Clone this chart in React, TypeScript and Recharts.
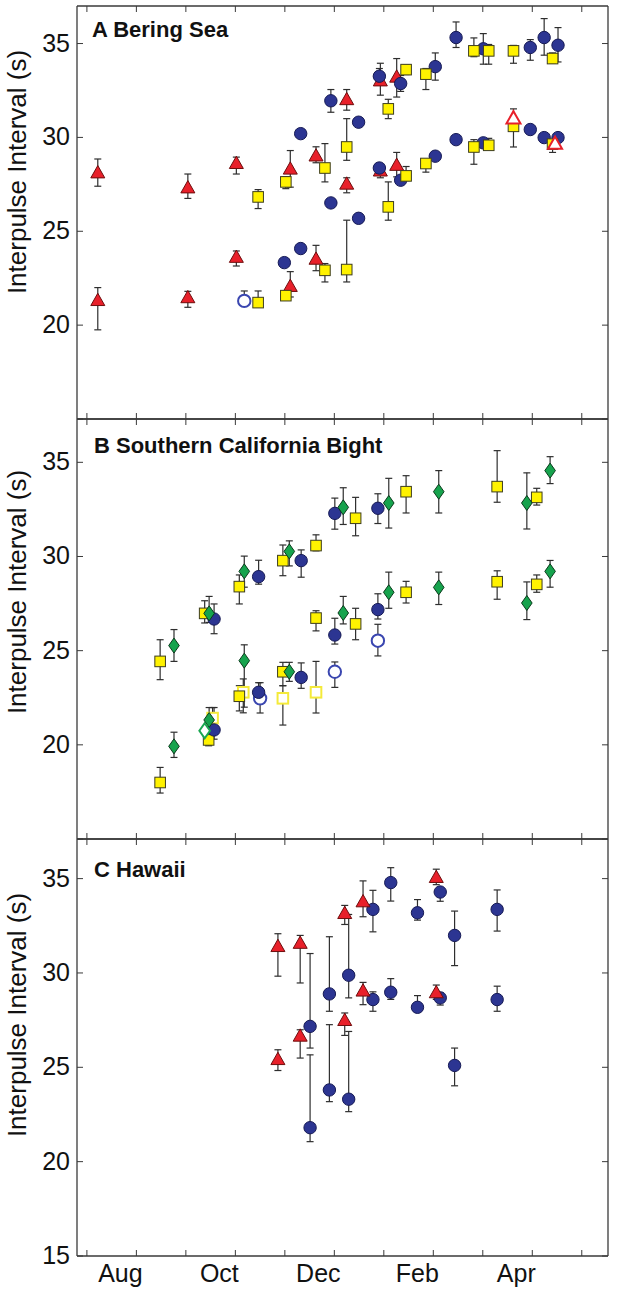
import React from 'react';
import { ScatterChart, Scatter, XAxis, YAxis, ErrorBar } from 'recharts';

// x: months after 1 Jul (one tick per month start), y: interpulse interval (s)
// lo / hi: ends of the error bar (null = no bar)
const MONTH_TICKS = [0, 1, 2, 3, 4, 5, 6, 7, 8, 9, 10];
const MONTH_LABELS: Record<number, string> = { 1: 'Aug', 3: 'Oct', 5: 'Dec', 7: 'Feb', 9: 'Apr' };
const Y_TICKS = [15, 20, 25, 30, 35];
const X_DOMAIN = [-0.2, 10.53];

// ---- A Bering Sea ----
const aTriX = [0.22, 0.22, 2.04, 2.04, 3.02, 3.02, 4.11, 4.11, 4.63, 4.63, 5.25, 5.25, 5.93, 5.93, 6.26, 6.26];
const aTriY = [28.1, 21.3, 27.3, 21.45, 28.6, 23.6, 28.3, 22.05, 29.0, 23.5, 32.0, 27.5, 33.0, 28.2, 33.2, 28.5];
const aTriLo = [27.4, 19.75, 26.75, 20.95, 28.05, 23.15, 27.35, 21.5, 28.65, 22.9, 31.45, 27.05, 32.25, 27.85, 32.15, 27.9];
const aTriHi = [28.85, 22.0, 28.05, 21.8, 28.95, 23.95, 29.3, 22.85, 29.5, 24.25, 32.55, 27.85, 33.95, 28.5, 34.2, 29.2];

const aOpenTriX = [8.62, 9.46];
const aOpenTriY = [31.0, 29.65];
const aOpenTriLo = [null, null];
const aOpenTriHi = [null, null];

const aCircX = [3.99, 4.32, 4.32, 4.93, 4.93, 5.49, 5.49, 5.91, 5.91, 6.34, 6.34, 7.04, 7.04, 7.46, 7.46, 8.01, 8.01, 8.96, 8.96, 9.24, 9.24, 9.52, 9.52];
const aCircY = [23.33, 24.08, 30.2, 31.95, 26.51, 30.81, 25.69, 33.26, 28.37, 32.87, 27.72, 33.77, 29.0, 35.32, 29.88, 34.72, 29.71, 34.79, 30.42, 35.32, 29.99, 34.91, 29.99];
const aCircLo = [null, null, 30.0, 31.34, null, 30.6, null, 33.0, 28.2, 32.45, 27.55, 33.05, 28.85, 34.79, null, 33.9, 29.55, 34.11, null, 34.38, null, 34.02, null];
const aCircHi = [null, null, 30.4, 32.55, null, 31.0, null, 33.67, 28.5, 33.3, 27.9, 34.5, 29.1, 36.15, null, 35.53, 29.85, 35.21, null, 36.33, null, 35.85, null];

const aOpenCircX = [3.18];
const aOpenCircY = [21.29];
const aOpenCircLo = [null];
const aOpenCircHi = [21.82];

const aSqX = [3.46, 3.46, 4.02, 4.02, 4.81, 4.81, 5.25, 5.25, 6.09, 6.09, 6.45, 6.45, 6.85, 6.85, 7.82, 7.82, 8.12, 8.12, 8.62, 8.62, 9.41, 9.41];
const aSqY = [21.2, 26.83, 21.57, 27.63, 28.37, 22.92, 29.49, 22.96, 31.52, 26.3, 33.61, 27.95, 33.37, 28.61, 34.61, 29.49, 34.61, 29.58, 34.61, 30.59, 34.2, 29.64];
const aSqLo = [20.97, 26.21, 21.4, 27.27, 27.63, 22.3, 28.78, 22.3, 31.0, 25.59, 33.35, 27.7, 32.55, 28.15, 34.3, 28.57, 33.9, 29.5, 33.95, 29.49, 33.95, 29.2];
const aSqHi = [21.82, 27.22, 21.7, 27.9, 29.67, 23.28, 31.0, 25.59, 32.03, 27.63, 33.85, 28.45, 33.67, 28.8, 35.3, 29.88, 34.95, 29.95, 34.9, 31.52, 34.5, 29.75];

// ---- B Southern California Bight ----
const bSqX = [1.48, 1.48, 2.38, 2.46, 3.08, 3.08, 3.96, 3.96, 4.63, 4.63, 5.43, 5.43, 6.45, 6.45, 8.29, 8.29, 9.09, 9.09];
const bSqY = [24.43, 18.0, 26.98, 20.26, 28.4, 22.58, 29.78, 23.88, 30.58, 26.73, 32.03, 26.42, 33.44, 28.1, 33.71, 28.66, 33.14, 28.52];
const bSqLo = [23.46, 17.44, 26.47, 19.95, 27.48, 21.8, 28.98, 23.14, 30.3, 26.05, 31.1, 25.58, 32.31, 27.53, 32.88, 27.73, 32.73, 28.1];
const bSqHi = [25.58, 18.8, 27.65, 20.57, 29.02, 23.14, 30.61, 24.38, 31.15, 27.12, 33.14, 27.25, 34.29, 28.68, 35.62, 29.24, 33.62, 29.02];

const bOpenSqX = [2.54, 3.16, 3.96, 4.63];
const bOpenSqY = [21.42, 22.79, 22.47, 22.79];
const bOpenSqLo = [20.5, 21.7, 21.05, 21.69];
const bOpenSqHi = [21.98, 23.5, 23.14, 24.43];

const bDiaX = [1.76, 1.76, 2.47, 2.47, 3.18, 3.18, 4.09, 4.09, 5.18, 5.18, 6.1, 6.1, 7.11, 7.11, 8.89, 8.89, 9.36, 9.36];
const bDiaY = [25.27, 19.92, 26.98, 21.32, 29.21, 24.47, 30.27, 23.88, 32.61, 27.0, 32.84, 28.1, 33.44, 28.36, 32.84, 27.53, 34.56, 29.21];
const bDiaLo = [24.43, 19.33, 26.5, 20.2, 28.37, 22.0, 29.5, 23.37, 31.7, 26.42, 31.51, 27.25, 32.31, 27.45, 31.46, 26.65, 33.87, 28.37];
const bDiaHi = [26.12, 20.67, 27.88, 21.98, 30.02, 25.31, 30.83, 24.38, 33.65, 27.88, 34.15, 29.17, 34.56, 29.17, 34.44, 28.65, 35.3, 29.79];

const bOpenDiaX = [2.38];
const bOpenDiaY = [20.75];
const bOpenDiaLo = [null];
const bOpenDiaHi = [null];

const bCircX = [2.57, 2.57, 3.47, 3.47, 4.33, 4.33, 5.01, 5.01, 5.88, 5.88];
const bCircY = [26.68, 20.79, 28.93, 22.79, 29.78, 23.58, 32.29, 25.83, 32.56, 27.18];
const bCircLo = [25.9, 20.3, 28.53, 22.3, 28.9, 23.0, 31.45, 25.35, 31.75, 26.68];
const bCircHi = [27.48, 21.98, 29.8, 23.3, 30.35, 24.35, 33.1, 26.72, 33.33, 28.02];

const bOpenCircX = [3.5, 5.01, 5.88];
const bOpenCircY = [22.47, 23.88, 25.53];
const bOpenCircLo = [21.69, 23.05, 24.72];
const bOpenCircHi = [23.3, 24.4, 26.4];

// ---- C Hawaii ----
const cTriX = [3.86, 3.86, 4.31, 4.31, 5.21, 5.21, 5.58, 5.58, 7.06, 7.06];
const cTriY = [31.39, 25.4, 31.56, 26.64, 33.14, 27.47, 33.76, 29.03, 35.05, 28.94];
const cTriLo = [29.83, 24.83, 29.47, 25.49, 32.57, 26.69, 32.98, 28.32, 34.68, 28.6];
const cTriHi = [32.08, 25.93, 31.99, 26.99, 33.58, 27.88, 34.88, 29.5, 35.5, 29.36];

const cCircX = [4.51, 4.51, 4.9, 4.9, 5.29, 5.29, 5.78, 5.78, 6.14, 6.14, 6.68, 6.68, 7.14, 7.14, 7.43, 7.43, 8.29, 8.29];
const cCircY = [27.17, 21.8, 28.89, 23.8, 29.88, 23.31, 33.37, 28.59, 34.79, 28.98, 33.19, 28.18, 34.29, 28.68, 31.99, 25.1, 33.37, 28.59];
const cCircLo = [26.02, 21.06, 27.97, 23.18, 28.68, 22.65, 32.18, 27.97, 33.81, 28.6, 32.8, 27.97, 33.8, 28.3, 30.39, 24.02, 32.22, 27.97];
const cCircHi = [31.03, 25.66, 31.92, 27.26, 33.1, 26.9, 34.38, 29.0, 35.58, 29.7, 33.89, 28.8, 34.5, 28.95, 33.28, 26.02, 34.4, 29.3];

const FONT = '"Liberation Sans", Arial, Helvetica, sans-serif';
const AXIS = '#3a3a3a';

function pts(xs: number[], ys: number[], lo: (number | null)[], hi: (number | null)[]) {
  return xs.map((x, i) => {
    const y = ys[i];
    const l = lo[i] == null ? 0 : y - (lo[i] as number);
    const h = hi[i] == null ? 0 : (hi[i] as number) - y;
    return { x, y, err: [Math.max(l, 0), Math.max(h, 0)] };
  });
}

// marker shapes
const circle = (fill: string, stroke: string, sw: number) => (p: any) => (
  <circle cx={p.cx} cy={p.cy} r={6.2} fill={fill} stroke={stroke} strokeWidth={sw} />
);
const triangle = (fill: string, stroke: string, sw: number) => (p: any) => (
  <polygon
    points={`${p.cx},${p.cy - 7.5} ${p.cx + 7},${p.cy + 4.8} ${p.cx - 7},${p.cy + 4.8}`}
    fill={fill}
    stroke={stroke}
    strokeWidth={sw}
    strokeLinejoin="miter"
  />
);
const square = (fill: string, stroke: string, sw: number) => (p: any) => (
  <rect x={p.cx - 5.3} y={p.cy - 5.3} width={10.6} height={10.6} fill={fill} stroke={stroke} strokeWidth={sw} />
);
const diamond = (fill: string, stroke: string, sw: number) => (p: any) => (
  <polygon
    points={`${p.cx},${p.cy - 7.5} ${p.cx + 5.3},${p.cy} ${p.cx},${p.cy + 7.5} ${p.cx - 5.3},${p.cy}`}
    fill={fill}
    stroke={stroke}
    strokeWidth={sw}
  />
);

const BLUE = circle('#2c3592', '#161a55', 1);
const BLUE_OPEN = circle('#ffffff', '#3a46b0', 2);
const RED = triangle('#e8202a', '#6e0d0d', 1);
const RED_OPEN = triangle('#ffffff', '#e8202a', 2);
const YEL = square('#fff200', '#3d3d1e', 1);
const YEL_OPEN = square('#ffffff', '#f4ea3a', 2);
const GRN = diamond('#16a34d', '#0b3b1c', 1);
const GRN_OPEN = diamond('#ffffff', '#1aa651', 2);

const BottomTick = (props: any) => {
  const { x, y, payload, showLabel } = props;
  const lab = MONTH_LABELS[payload.value];
  return (
    <g>
      <line x1={x} y1={y} x2={x} y2={y - 6} stroke={AXIS} strokeWidth={1} />
      {showLabel && lab ? (
        <text x={x - 16} y={y + 26} textAnchor="middle" fontSize={25} fontFamily={FONT} fill="#111">
          {lab}
        </text>
      ) : null}
    </g>
  );
};

const TopTick = (props: any) => {
  const { x, y } = props;
  return <line x1={x} y1={y} x2={x} y2={y + 6} stroke={AXIS} strokeWidth={1} />;
};

const LeftTick = (props: any) => {
  const { x, y, payload, showMin } = props;
  const show = showMin || payload.value !== 15;
  return (
    <g>
      <line x1={x} y1={y} x2={x + 6} y2={y} stroke={AXIS} strokeWidth={1} />
      {show ? (
        <text x={x - 7} y={y + 8} textAnchor="end" fontSize={25} fontFamily={FONT} fill="#111">
          {payload.value}
        </text>
      ) : null}
    </g>
  );
};

const RightTick = (props: any) => {
  const { x, y } = props;
  return <line x1={x} y1={y} x2={x - 6} y2={y} stroke={AXIS} strokeWidth={1} />;
};

const YTitle = (props: any) => {
  const { viewBox, off } = props;
  const cx = 17;
  const cy = viewBox.y + off;
  return (
    <text
      x={cx}
      y={cy}
      transform={`rotate(-90, ${cx}, ${cy})`}
      textAnchor="middle"
      dominantBaseline="central"
      fontSize={26}
      fontFamily={FONT}
      fill="#111"
    >
      Interpulse Interval (s)
    </text>
  );
};

const PanelTitle = (props: any) => {
  const { viewBox, text, dx, dy } = props;
  return (
    <text x={viewBox.x + dx} y={viewBox.y + viewBox.height + dy} fontSize={22} fontWeight="bold" fontFamily={FONT} fill="#111">
      {text}
    </text>
  );
};

type Series = { data: any[]; shape: any };

type PanelProps = {
  top: number;
  height: number;
  margin: { top: number; right: number; bottom: number; left: number };
  yMax: number;
  title: string;
  titleDx: number;
  titleDy: number;
  labelOff: number;
  last?: boolean;
  series: Series[];
};

const Panel = ({ top, height, margin, yMax, title, titleDx, titleDy, labelOff, last, series }: PanelProps) => {
  const axisLine = { stroke: AXIS, strokeWidth: 1.3 };
  const all = series.flatMap((s) => s.data);
  return (
    <div style={{ position: 'absolute', left: 0, top }}>
      <ScatterChart width={617} height={height} margin={margin}>
        <XAxis
          xAxisId="b"
          type="number"
          dataKey="x"
          orientation="bottom"
          domain={X_DOMAIN}
          ticks={MONTH_TICKS}
          interval={0}
          allowDataOverflow
          height={1}
          tickSize={0}
          tickMargin={0}
          tickLine={false}
          axisLine={axisLine}
          tick={<BottomTick showLabel={!!last} />}
        />
        <XAxis
          xAxisId="t"
          type="number"
          dataKey="x"
          orientation="top"
          domain={X_DOMAIN}
          ticks={MONTH_TICKS}
          interval={0}
          allowDataOverflow
          height={1}
          tickSize={0}
          tickMargin={0}
          tickLine={false}
          axisLine={axisLine}
          tick={<TopTick />}
          label={<PanelTitle text={title} dx={titleDx} dy={titleDy} />}
        />
        <YAxis
          yAxisId="l"
          type="number"
          dataKey="y"
          orientation="left"
          domain={[15, yMax]}
          ticks={Y_TICKS}
          interval={0}
          allowDataOverflow
          width={1}
          tickSize={0}
          tickMargin={0}
          tickLine={false}
          axisLine={axisLine}
          tick={<LeftTick showMin={!!last} />}
          label={<YTitle off={labelOff} />}
        />
        <YAxis
          yAxisId="r"
          type="number"
          dataKey="y"
          orientation="right"
          domain={[15, yMax]}
          ticks={Y_TICKS}
          interval={0}
          allowDataOverflow
          width={1}
          tickSize={0}
          tickMargin={0}
          tickLine={false}
          axisLine={axisLine}
          tick={<RightTick />}
        />
        <Scatter xAxisId="t" yAxisId="r" data={all} shape={() => <g />} isAnimationActive={false} />
        {series.map((s, i) => (
          <Scatter key={i} xAxisId="b" yAxisId="l" data={s.data} shape={s.shape} isAnimationActive={false}>
            <ErrorBar dataKey="err" direction="y" width={3.5} stroke="#2e2e2e" strokeWidth={1.2} />
          </Scatter>
        ))}
      </ScatterChart>
    </div>
  );
};

export default function App() {
  const panelA: Series[] = [
    { data: pts(aTriX, aTriY, aTriLo, aTriHi), shape: RED },
    { data: pts(aCircX, aCircY, aCircLo, aCircHi), shape: BLUE },
    { data: pts(aOpenCircX, aOpenCircY, aOpenCircLo, aOpenCircHi), shape: BLUE_OPEN },
    { data: pts(aSqX, aSqY, aSqLo, aSqHi), shape: YEL },
    { data: pts(aOpenTriX, aOpenTriY, aOpenTriLo, aOpenTriHi), shape: RED_OPEN },
  ];
  const panelB: Series[] = [
    { data: pts(bOpenSqX, bOpenSqY, bOpenSqLo, bOpenSqHi), shape: YEL_OPEN },
    { data: pts(bOpenCircX, bOpenCircY, bOpenCircLo, bOpenCircHi), shape: BLUE_OPEN },
    { data: pts(bSqX, bSqY, bSqLo, bSqHi), shape: YEL },
    { data: pts(bCircX, bCircY, bCircLo, bCircHi), shape: BLUE },
    { data: pts(bDiaX, bDiaY, bDiaLo, bDiaHi), shape: GRN },
    { data: pts(bOpenDiaX, bOpenDiaY, bOpenDiaLo, bOpenDiaHi), shape: GRN_OPEN },
  ];
  const panelC: Series[] = [
    { data: pts(cCircX, cCircY, cCircLo, cCircHi), shape: BLUE },
    { data: pts(cTriX, cTriY, cTriLo, cTriHi), shape: RED },
  ];

  return (
    <div style={{ position: 'absolute', left: 0, top: 0, width: 617, height: 1294, background: '#fff' }}>
      <Panel
        top={0}
        height={420}
        margin={{ top: 5, right: 8, bottom: 0, left: 76 }}
        yMax={37}
        title="A Bering Sea"
        titleDx={15}
        titleDy={31}
        labelOff={166}
        series={panelA}
      />
      <Panel
        top={418}
        height={422}
        margin={{ top: 0, right: 8, bottom: 0, left: 76 }}
        yMax={37.3}
        title="B Southern California Bight"
        titleDx={17}
        titleDy={34}
        labelOff={173}
        series={panelB}
      />
      <Panel
        top={838}
        height={456}
        margin={{ top: 0, right: 8, bottom: 37, left: 76 }}
        yMax={37.1}
        title="C Hawaii"
        titleDx={17}
        titleDy={38}
        labelOff={176}
        last
        series={panelC}
      />
    </div>
  );
}
